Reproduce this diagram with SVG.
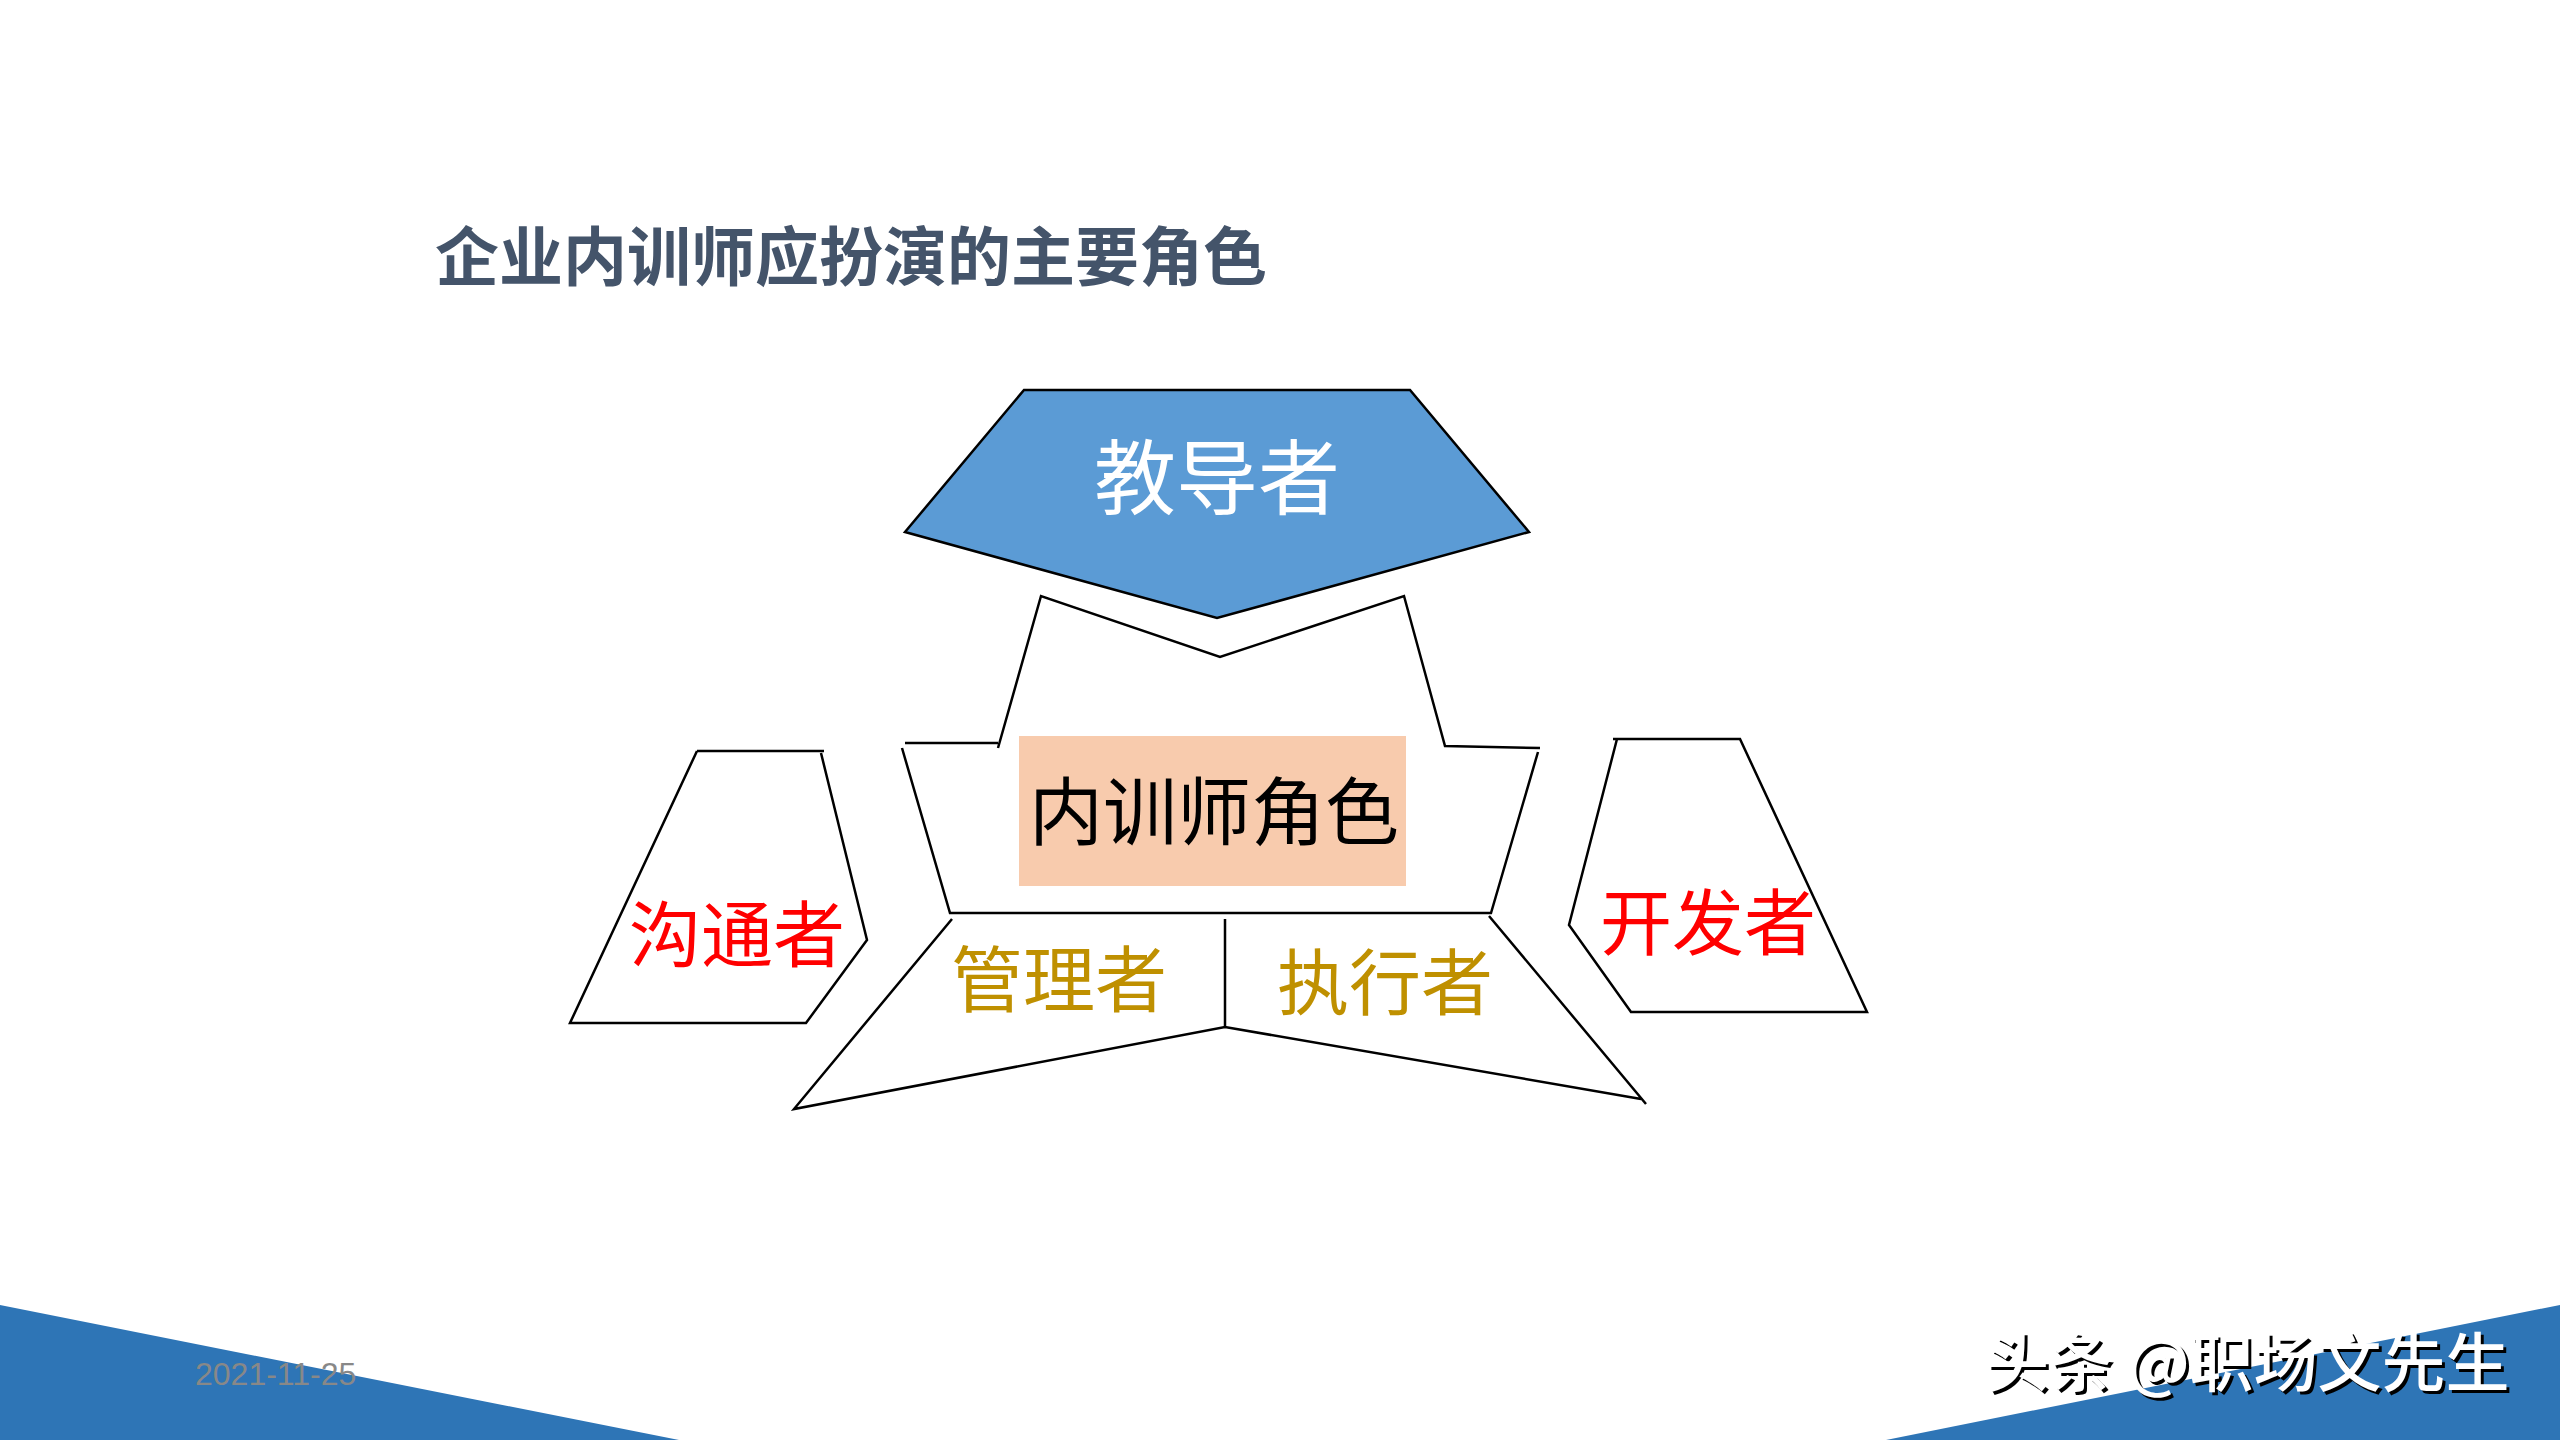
<svg xmlns="http://www.w3.org/2000/svg" width="2560" height="1440" viewBox="0 0 2560 1440">
<style>
.ol{fill:none;stroke:#000;stroke-width:2.5;stroke-linejoin:miter}
.cjk{font-family:"Noto Sans CJK SC","Noto Sans",sans-serif;text-anchor:middle;dominant-baseline:central}
.role{font-size:72px}
.red{fill:#FF0000}
.gold{fill:#BF9000}
.wm{font-family:"Noto Sans CJK SC",sans-serif;font-size:64px;font-weight:500}
</style>
<rect width="2560" height="1440" fill="#fff"/>
<g id="decor">
<polygon points="0,1305 679,1440 0,1440" fill="#2E75B6"/>
<polygon points="1886,1440 2560,1305 2560,1440" fill="#2E75B6"/>
<text x="195" y="1385" font-family="'Liberation Sans',Arial,sans-serif" font-size="32" fill="#888888">2021-11-25</text>
</g>
<g id="title">
<text class="cjk" x="851" y="252" font-size="64" font-weight="bold" fill="#44546A">企业内训师应扮演的主要角色</text>
</g>
<g id="teacher">
<polygon points="1024,390 1410,390 1529,532 1217,618 905,532" fill="#5B9BD5" stroke="#000" stroke-width="2.5"/>
<text class="cjk" x="1217" y="472" font-size="82" fill="#fff">教导者</text>
</g>
<g id="core">
<path class="ol" d="M905,743 L998,743 M998,748 L1041,596 L1220,657 L1404,596 L1445,746 L1540,748 M1538,752 L1491,913 L950,913 L902,748"/>
<rect x="1019" y="736" width="387" height="150" fill="#F8CBAD"/>
<text class="cjk" x="1214" y="806" font-size="74" fill="#000">内训师角色</text>
</g>
<g id="communicator">
<path class="ol" d="M697,751 L824,751 M821,753 L867,940 L806,1023 L570,1023 L697,751"/>
<text class="cjk role red" x="737" y="929">沟通者</text>
</g>
<g id="developer">
<path class="ol" d="M1613,739 L1740,739 L1867,1012 L1631,1012 L1569,925 L1617,739"/>
<text class="cjk role red" x="1708" y="917">开发者</text>
</g>
<g id="manager-executor">
<path class="ol" d="M952,919 L794,1109 L1225,1027 L1641,1099 M1489,916 L1646,1104 M1225,919 L1225,1027"/>
<text class="cjk role gold" x="1059" y="974">管理者</text>
<text class="cjk role gold" x="1385" y="977">执行者</text>
</g>
<g id="connectors"></g>
<g id="watermark">
<text class="wm" x="1988" y="1389" fill="#000">头条 @职场文先生</text>
<text class="wm" x="1985" y="1386" fill="#fff">头条 @职场文先生</text>
</g>
</svg>
